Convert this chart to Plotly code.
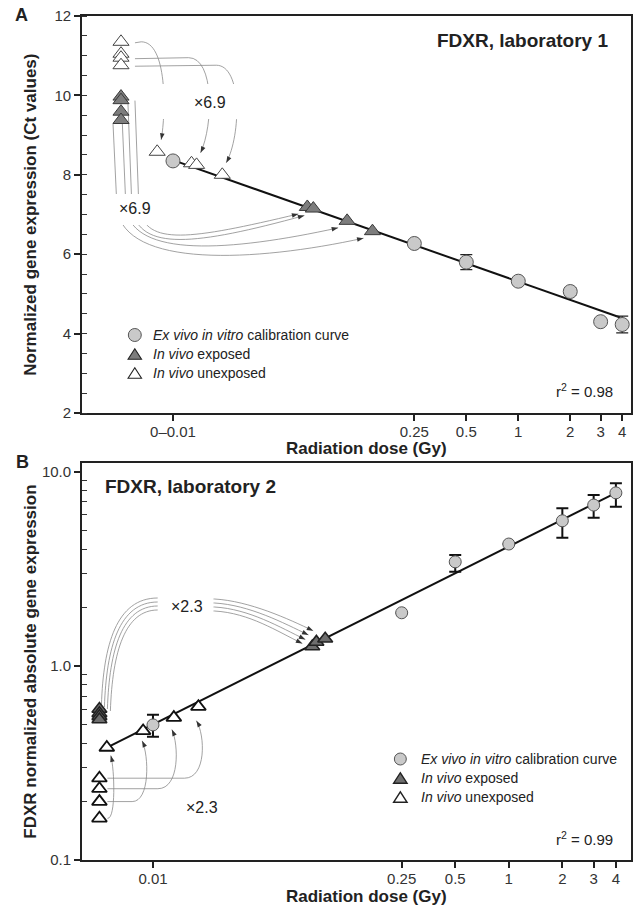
import numpy as np
import plotly.graph_objects as go

# ---------------- data ----------------
dose_ticks = [0.01, 0.25, 0.5, 1, 2, 3, 4]
dose_ticktext_A = ["0\u20130.01", "0.25", "0.5", "1", "2", "3", "4"]
dose_ticktext_B = ["0.01", "0.25", "0.5", "1", "2", "3", "4"]
zero_dose = 0.005  # position where not-yet-assigned samples are drawn

# Panel A - laboratory 1 (Ct values)
A_cal_dose = [0.01, 0.25, 0.5, 1, 2, 3, 4]
A_cal_ct = [8.35, 6.27, 5.80, 5.32, 5.06, 4.30, 4.23]
A_cal_err = [0.0, 0.0, 0.19, 0.0, 0.10, 0.0, 0.21]
A_exposed0_ct = [9.97, 9.88, 9.59, 9.38]
A_unexposed0_ct = [11.35, 11.05, 10.95, 10.76]
A_exposed_dose = [0.060, 0.065, 0.102, 0.143]
A_exposed_ct = [7.19, 7.15, 6.84, 6.58]
A_unexposed_dose = [0.0081, 0.0128, 0.0137, 0.0193]
A_unexposed_ct = [8.58, 8.29, 8.25, 8.00]
A_fit_intercept = 5.31   # Ct at 1 Gy
A_fit_slope = -1.53      # per log10(Gy)
A_fit_range = [0.01, 3.9]
A_r2 = "0.98"
A_fold = "\u00d76.9"

# Panel B - laboratory 2 (normalized absolute expression)
B_cal_dose = [0.01, 0.25, 0.5, 1, 2, 3, 4]
B_cal_val = [0.497, 1.88, 3.44, 4.25, 5.60, 6.75, 7.80]
B_cal_err_plus = [0.063, 0.0, 0.29, 0.0, 0.89, 0.85, 0.93]
B_cal_err_minus = [0.065, 0.0, 0.38, 0.0, 1.02, 0.95, 1.19]
B_exposed0_val = [0.60, 0.57, 0.55, 0.53]
B_unexposed0_val = [0.264, 0.233, 0.200, 0.164]
B_exposed_dose = [0.0786, 0.0829, 0.0929]
B_exposed_val = [1.26, 1.33, 1.38]
B_unexposed_dose = [0.0055, 0.0088, 0.0131, 0.018]
B_unexposed_val = [0.380, 0.463, 0.542, 0.617]
B_fit_log_intercept = 0.616  # log10(value) at 1 Gy
B_fit_slope = 0.459          # log-log slope
B_fit_range = [0.0055, 4.0]
B_r2 = "0.99"
B_fold = "\u00d72.3"

legend_labels = ["<i>Ex vivo in vitro</i> calibration curve",
                 "<i>In vivo</i> exposed",
                 "<i>In vivo</i> unexposed"]

# ---------------- geometry ----------------
W, H = 639, 906
ML, MR, MT, MB = 82, 6, 16, 46
PW, PH = W - ML - MR, H - MT - MB
PANEL_H = 397
domA = [1 - PANEL_H / PH, 1.0]
domB = [0.0, PANEL_H / PH]
XRA = [-2.527, 0.653]
XRB = [-2.399, 0.687]
YRA = [2, 12]
YRB = [-1, 1.046]

FONT = "Liberation Sans, Arial, Helvetica, sans-serif"
CIRC_FILL = "#c9c9c9"
EXP_FILL_A = "#7d7d7d"
EXP_FILL_B = "#6e6e6e"


def X(d, xr):
    return ML + (np.log10(d) - xr[0]) / (xr[1] - xr[0]) * PW


def Y(v, dom, yr, log=False):
    top = MT + (1 - dom[1]) * PH
    bot = MT + (1 - dom[0]) * PH
    t = np.log10(v) if log else v
    return bot - (t - yr[0]) / (yr[1] - yr[0]) * (bot - top)


def P(px, py):
    return (px - ML) / PW, 1 - (py - MT) / PH


def pstr(x, y):
    a, b = P(x, y)
    return f"{a:.5f},{b:.5f}"


shapes = []
heads = []
LINE_C = "#8a8a8a"


def add_connector(segs):
    d = " ".join(c + " ".join(pstr(*p) for p in pts) for c, pts in segs)
    shapes.append(dict(type="path", path=d, xref="paper", yref="paper",
                       line=dict(color=LINE_C, width=0.8), layer="below"))
    last = segs[-1][1]
    E = last[-1]
    Pp = last[-2] if len(last) > 1 else segs[-2][1][-1]
    ux, uy = E[0] - Pp[0], E[1] - Pp[1]
    n = np.hypot(ux, uy)
    ux, uy = ux / n, uy / n
    L, w = 6.5, 2.3
    bx, by = E[0] - L * ux, E[1] - L * uy
    p1 = (bx - w * uy, by + w * ux)
    p2 = (bx + w * uy, by - w * ux)
    heads.append(dict(type="path", path=f"M{pstr(*E)} L{pstr(*p1)} L{pstr(*p2)} Z",
                      xref="paper", yref="paper", fillcolor="#333333",
                      line=dict(width=0), layer="below"))


# label positions (pixels) for the fold-change texts
labA_up = (210, 102)
labA_lo = (135, 209)
labB_up = (187, 606)
labB_lo = (202, 807)

# --- Panel A, upper group: unexposed (0 Gy) -> unexposed on curve
for s, t, k in zip([0, 2, 3], [0, 2, 3], [4, 12, 14]):
    Sx = X(zero_dose, XRA) + 14
    Sy = Y(A_unexposed0_ct[s], domA, YRA) + 1
    tx = X(A_unexposed_dose[t], XRA)
    ty = Y(A_unexposed_ct[t], domA, YRA)
    E = (tx + 4, ty - 12)
    Kx = E[0] + k
    r = 24
    add_connector([("M", [(Sx, Sy)]), ("L", [(Kx - r, Sy - 1)]),
                   ("C", [(Kx + 2, Sy - 1), (Kx + 1, E[1] - 28), E])])

# --- Panel A, lower group: exposed (0 Gy) -> exposed on curve
for j in range(4):
    xs = X(zero_dose, XRA) + [14, 7, 1, -8][j]
    ys = Y(A_exposed0_ct[j], domA, YRA) + 4
    tx = X(A_exposed_dose[j], XRA)
    ty = Y(A_exposed_ct[j], domA, YRA)
    E = (tx - 9, ty + 7)
    bot = ty + [31, 35, 29, 29][j]
    add_connector([("M", [(xs, ys)]), ("L", [(xs + 4, labA_lo[1])]),
                   ("C", [(xs + 12, bot + 8), (E[0] - 110, bot + 2), E])])

# --- Panel B, upper group: exposed (0 Gy) -> exposed on curve
for j, (t, off) in enumerate(zip([2, 1, 0, 0], [(-12, -8), (-8, -7), (-7, -7), (-10, -3)])):
    S = (X(zero_dose, XRB) + 2 + 3 * j, Y(B_exposed0_val[0], domB, YRB, True) - 4 + 2 * j)
    Ty = labB_up[1] - 8 + 4 * j
    T1 = (labB_up[0] - 29, Ty)
    tx = X(B_exposed_dose[t], XRB)
    ty = Y(B_exposed_val[t], domB, YRB, True)
    E = (tx + off[0], ty + off[1])
    add_connector([("M", [S]), ("C", [(S[0] + 2, S[1] - 60), (S[0] + 15, Ty), T1]),
                   ("L", [(labB_up[0] + 28, Ty + 1)]),
                   ("C", [(labB_up[0] + 63, Ty + 3), (E[0] - 25, E[1] - 12), E])])

# --- Panel B, lower group: unexposed (0 Gy) -> unexposed on curve
for j, (t, k, r, off) in enumerate(zip([3, 2, 1, 0], [8, 6, 6, 3], [20, 20, 16, 6],
                                        [(-2, 14), (-2, 12), (-1, 10), (4, 8)])):
    S = (X(zero_dose, XRB) + 8, Y(B_unexposed0_val[j], domB, YRB, True))
    tx = X(B_unexposed_dose[t], XRB)
    ty = Y(B_unexposed_val[t], domB, YRB, True)
    E = (tx + off[0], ty + off[1])
    Kx = E[0] + k
    add_connector([("M", [S]), ("L", [(Kx - r, S[1])]),
                   ("C", [(Kx + 2, S[1]), (Kx + 1, E[1] + 15), E])])


def gap_rect(x0, y0, x1, y1):
    a0, b1 = P(x0, y0)
    a1, b0 = P(x1, y1)
    shapes.append(dict(type="rect", xref="paper", yref="paper", x0=a0, x1=a1, y0=b0, y1=b1,
                       fillcolor="white", line=dict(width=0), layer="below"))


gap_rect(labA_up[0] - 60, labA_up[1] - 18, labA_up[0] + 42, labA_up[1] + 17)
gap_rect(labA_lo[0] - 35, labA_lo[1] - 15, labA_lo[0] + 20, labA_lo[1] + 16)
gap_rect(labB_up[0] - 29, labB_up[1] - 18, labB_up[0] + 27, labB_up[1] + 18)
shapes.extend(heads)

# ---------------- traces ----------------
fig = go.Figure()

# Panel A
fa = np.array(A_fit_range)
fig.add_trace(go.Scatter(x=fa, y=A_fit_intercept + A_fit_slope * np.log10(fa), mode="lines",
                         line=dict(color="#111", width=2), xaxis="x", yaxis="y",
                         hoverinfo="skip"))
fig.add_trace(go.Scatter(x=A_cal_dose, y=A_cal_ct, mode="markers", name=legend_labels[0],
                         marker=dict(symbol="circle", size=14, color=CIRC_FILL,
                                     line=dict(color="#555", width=1)),
                         error_y=dict(type="data", array=A_cal_err, color="#222",
                                      thickness=1.2, width=6),
                         xaxis="x", yaxis="y"))
fig.add_trace(go.Scatter(x=[zero_dose] * len(A_exposed0_ct) + A_exposed_dose,
                         y=A_exposed0_ct + A_exposed_ct, mode="markers", name=legend_labels[1],
                         marker=dict(symbol="triangle-up", size=14, color=EXP_FILL_A,
                                     line=dict(color="#3a3a3a", width=1)),
                         xaxis="x", yaxis="y"))
fig.add_trace(go.Scatter(x=[zero_dose] * len(A_unexposed0_ct) + A_unexposed_dose,
                         y=A_unexposed0_ct + A_unexposed_ct, mode="markers",
                         name=legend_labels[2],
                         marker=dict(symbol="triangle-up", size=14, color="white",
                                     line=dict(color="#444", width=1)),
                         xaxis="x", yaxis="y"))

# Panel B
fb = np.array(B_fit_range)
fig.add_trace(go.Scatter(x=fb, y=10 ** (B_fit_log_intercept + B_fit_slope * np.log10(fb)),
                         mode="lines", line=dict(color="#111", width=2),
                         xaxis="x2", yaxis="y2", hoverinfo="skip"))
fig.add_trace(go.Scatter(x=B_cal_dose, y=B_cal_val, mode="markers", name=legend_labels[0],
                         marker=dict(symbol="circle", size=12, color=CIRC_FILL,
                                     line=dict(color="#555", width=1)),
                         error_y=dict(type="data", symmetric=False, array=B_cal_err_plus,
                                      arrayminus=B_cal_err_minus, color="#111",
                                      thickness=2, width=6),
                         xaxis="x2", yaxis="y2"))
fig.add_trace(go.Scatter(x=[zero_dose] * len(B_exposed0_val) + B_exposed_dose,
                         y=B_exposed0_val + B_exposed_val, mode="markers", name=legend_labels[1],
                         marker=dict(symbol="triangle-up", size=13, color=EXP_FILL_B,
                                     line=dict(color="#222", width=1.6)),
                         xaxis="x2", yaxis="y2"))
fig.add_trace(go.Scatter(x=[zero_dose] * len(B_unexposed0_val) + B_unexposed_dose,
                         y=B_unexposed0_val + B_unexposed_val, mode="markers",
                         name=legend_labels[2],
                         marker=dict(symbol="triangle-up", size=13, color="white",
                                     line=dict(color="#111", width=1.8)),
                         xaxis="x2", yaxis="y2"))
fig.update_traces(showlegend=False)

# ---------------- annotations ----------------
ann = []


def text(px, py, s, size=15, bold=False, xanchor="center", angle=0, color="#222"):
    x, y = P(px, py)
    ann.append(dict(x=x, y=y, xref="paper", yref="paper", text=(f"<b>{s}</b>" if bold else s),
                    showarrow=False, xanchor=xanchor, yanchor="middle", textangle=angle,
                    font=dict(family=FONT, size=size, color=color)))


text(21, 15.5, "A", 18, True)
text(22, 462, "B", 18, True)
text(612, 40.5, "FDXR, laboratory 1", 19, True, "right")
text(103, 487, "FDXR, laboratory 2", 19, True, "left")
text(617, 390, f"r<sup>2</sup> = {A_r2}", 15, False, "right")
text(617, 838.5, f"r<sup>2</sup> = {B_r2}", 15, False, "right")
text(367.5, 448.5, "Radiation dose (Gy)", 17, True)
text(367.5, 897, "Radiation dose (Gy)", 17, True)
text(30, (MT + MT + PANEL_H) / 2, "Normalized gene expression (Ct values)", 17, True, angle=-90)
text(30, 463 + PANEL_H / 2, "FDXR normalized absolute gene expression", 17, True, angle=-90)
text(*labA_up, A_fold, 16)
text(*labA_lo, A_fold, 16)
text(*labB_up, B_fold, 16)
text(*labB_lo, B_fold, 16)


# ---------------- hand-drawn legends ----------------
def legend_block(mx, tx, y0, dy, circ_d, tri_w, tri_h, exp_fill, tri_lw):
    ys = [y0 + i * dy for i in range(3)]
    a0, b1 = P(mx - circ_d / 2, ys[0] - circ_d / 2)
    a1, b0 = P(mx + circ_d / 2, ys[0] + circ_d / 2)
    shapes.append(dict(type="circle", xref="paper", yref="paper", x0=a0, x1=a1, y0=b0, y1=b1,
                       fillcolor=CIRC_FILL, line=dict(color="#555", width=1)))
    for yy, fill in zip(ys[1:], [exp_fill, "white"]):
        p = (f"M{pstr(mx - tri_w / 2, yy + tri_h / 2)} L{pstr(mx + tri_w / 2, yy + tri_h / 2)} "
             f"L{pstr(mx, yy - tri_h / 2)} Z")
        shapes.append(dict(type="path", path=p, xref="paper", yref="paper", fillcolor=fill,
                           line=dict(color="#222", width=tri_lw)))
    for yy, lab in zip(ys, legend_labels):
        text(tx, yy, lab, 14, False, "left")


legend_block(135, 151, 335, 19, 13, 13.5, 10.5, EXP_FILL_A, 1.1)
legend_block(401.5, 420, 759, 19, 12, 13.5, 10.5, EXP_FILL_B, 1.4)

# ---------------- axes ----------------
axis_common = dict(showline=True, linewidth=1.8, linecolor="#222", mirror=True,
                   showgrid=False, zeroline=False, ticks="outside", ticklen=6,
                   tickcolor="#222", tickfont=dict(family=FONT, size=15, color="#333"))

xa = dict(axis_common, type="log", range=XRA, tickmode="array", tickvals=dose_ticks,
          ticktext=dose_ticktext_A, tickwidth=2, anchor="y", domain=[0, 1],
          ticklabelstandoff=-2)
xb = dict(axis_common, type="log", range=XRB, tickmode="array", tickvals=dose_ticks,
          ticktext=dose_ticktext_B, tickwidth=2, anchor="y2", domain=[0, 1],
          ticklabelstandoff=-2)
ya = dict(axis_common, range=YRA, tick0=2, dtick=2, tickwidth=1.5, anchor="x", domain=domA,
          minor=dict(ticks="inside", ticklen=5, tickwidth=1, tickcolor="#333", dtick=0.5,
                     showgrid=False))
minor_vals = [m * 10 ** e for e in (-1, 0) for m in range(2, 10)]
yb = dict(axis_common, type="log", range=YRB, tickmode="array", tickvals=[0.1, 1, 10],
          ticktext=["0.1", "1.0", "10.0"], tickwidth=1.5, anchor="x2", domain=domB,
          minor=dict(ticks="inside", ticklen=5, tickwidth=1, tickcolor="#333",
                     tickmode="array", tickvals=minor_vals, showgrid=False))

fig.update_layout(
    width=W, height=H,
    margin=dict(l=ML, r=MR, t=MT, b=MB, pad=0),
    paper_bgcolor="white", plot_bgcolor="white",
    font=dict(family=FONT, color="#222"),
    xaxis=xa, yaxis=ya, xaxis2=xb, yaxis2=yb,
    showlegend=False,
    shapes=shapes, annotations=ann,
)

fig.write_html("out.html")
